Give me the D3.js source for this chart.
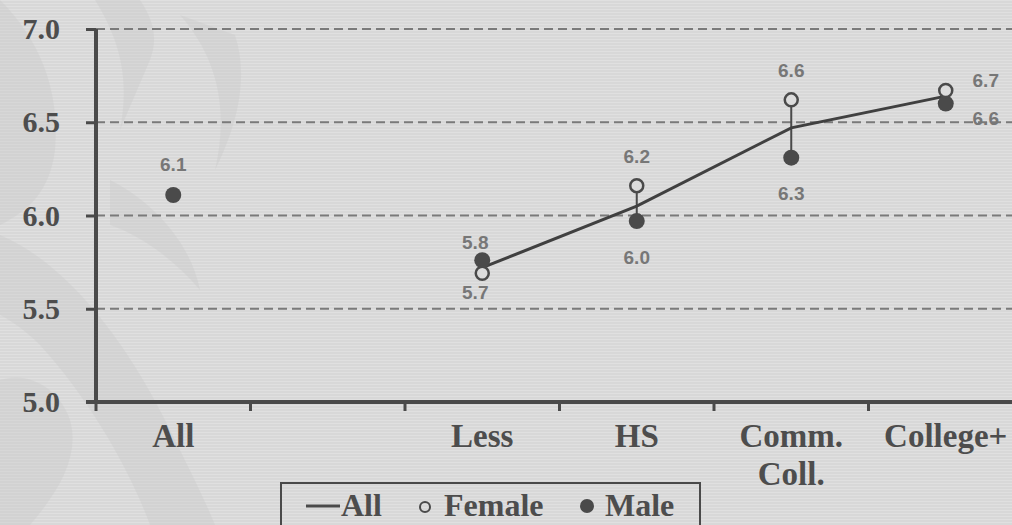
<!DOCTYPE html>
<html lang="en">
<head>
<meta charset="UTF-8">
<title>Education gaps</title>
<script src="https://d3js.org/d3.v7.min.js"></script>
<style>
  body { margin: 0; background: #d9d9d9; }
  svg { display: block; }
  .tick-label { font-family: "Liberation Serif", serif; font-weight: bold; fill: #4d4d4d; }
  .val { font-family: "Liberation Sans", Arial, sans-serif; font-weight: bold; font-size: 19px; fill: #777; text-anchor: middle; }
</style>
</head>
<body>
<svg id="chart"></svg>
<script>
// categories (the empty one is a spacer slot on the axis)
const categories = ["All", "", "Less", "HS", "Comm. Coll.", "College+"];
const allValues    = [null, null, 5.72, 6.05, 6.47, 6.64];
const femaleValues = [null, null, 5.69, 6.16, 6.62, 6.67];
const maleValues   = [6.11, null, 5.76, 5.97, 6.31, 6.60];
const femaleLabels = [null, null, "5.7", "6.2", "6.6", "6.7"];
const maleLabels   = ["6.1", null, "5.8", "6.0", "6.3", "6.6"];
const yTicks = [5.0, 5.5, 6.0, 6.5, 7.0];
const legendItems = ["All", "Female", "Male"];

const w = 1012, h = 525;
const svg = d3.select("#chart").attr("width", w).attr("height", h);

// striped background
const defs = svg.append("defs");
const pat = defs.append("pattern").attr("id", "stripes")
  .attr("width", 8).attr("height", 3).attr("patternUnits", "userSpaceOnUse");
pat.append("rect").attr("width", 8).attr("height", 3).attr("fill", "#d8d8d8");
pat.append("rect").attr("width", 8).attr("height", 1).attr("fill", "#e0e0e0");
svg.append("rect").attr("width", w).attr("height", h).attr("fill", "url(#stripes)");

// faint watermark ornament on the left
const orn = svg.append("g").attr("fill", "#c9c9c9").attr("opacity", 0.35);
orn.append("path").attr("d", "M0,235 C60,260 120,330 165,420 C190,470 205,500 215,525 L150,525 C130,470 90,400 40,345 C25,330 10,320 0,315 Z");
orn.append("path").attr("d", "M0,0 C40,40 60,90 55,150 C50,190 30,210 0,225 Z");
orn.append("path").attr("d", "M95,0 C120,40 130,80 120,130 L150,60 C160,35 150,15 140,0 Z");
orn.append("path").attr("d", "M180,15 C215,55 230,105 215,170 C235,130 250,80 235,35 Z");
orn.append("path").attr("d", "M0,380 C30,370 60,390 70,420 C80,455 60,490 30,525 L0,525 Z");
orn.append("path").attr("d", "M110,180 C150,200 190,240 200,290 C175,260 140,235 110,225 Z");

const x = d3.scaleBand().domain(categories).range([96, 1023]).padding(0);
const y = d3.scaleLinear().domain([5, 7]).range([402, 29]);
const cx = d => x(d) + x.bandwidth() / 2;

// dashed gridlines
svg.append("g").selectAll("line")
  .data(yTicks.filter(t => t > 5))
  .enter().append("line")
  .attr("x1", 96).attr("x2", w)
  .attr("y1", d => y(d)).attr("y2", d => y(d))
  .attr("stroke", "#7a7a7a").attr("stroke-width", 2)
  .attr("stroke-dasharray", "9,5");

// y axis
const yAxis = d3.axisLeft(y).tickValues(yTicks).tickFormat(d3.format(".1f"))
  .tickSize(10).tickPadding(26);
const gy = svg.append("g").attr("transform", "translate(96,0)").call(yAxis);
gy.select(".domain").attr("stroke", "#4a4a4a").attr("stroke-width", 4).attr("d", "M-0,29V402");
gy.selectAll(".tick line").attr("stroke", "#4a4a4a").attr("stroke-width", 3);
gy.selectAll(".tick text").attr("class", "tick-label").style("font-size", "30px")
  .attr("font-family", null).attr("font-size", null).attr("fill", null);

// x axis line and tick marks at band edges
svg.append("line").attr("x1", 86).attr("x2", w).attr("y1", 402).attr("y2", 402)
  .attr("stroke", "#4a4a4a").attr("stroke-width", 4);
svg.append("g").selectAll("line")
  .data(categories)
  .enter().append("line")
  .attr("x1", d => x(d)).attr("x2", d => x(d))
  .attr("y1", 402).attr("y2", 411)
  .attr("stroke", "#4a4a4a").attr("stroke-width", 3);

// x labels
const xl = svg.append("g").selectAll("text")
  .data(categories.filter(c => c))
  .enter().append("text")
  .attr("class", "tick-label")
  .style("font-size", "33px")
  .attr("text-anchor", "middle")
  .attr("x", d => cx(d))
  .attr("y", 447);
xl.each(function(d) {
  const parts = d.split(" ");
  const t = d3.select(this);
  parts.forEach((p, i) => {
    t.append("tspan").attr("x", cx(d)).attr("dy", i === 0 ? 0 : 38).text(p);
  });
});

// rows of data per category
const rows = categories.map((c, i) => ({
  cat: c, all: allValues[i], f: femaleValues[i], m: maleValues[i],
  fl: femaleLabels[i], ml: maleLabels[i]
}));

// vertical connectors between female and male
svg.append("g").selectAll("line")
  .data(rows.filter(r => r.f != null && r.m != null))
  .enter().append("line")
  .attr("x1", d => cx(d.cat)).attr("x2", d => cx(d.cat))
  .attr("y1", d => y(d.f)).attr("y2", d => y(d.m))
  .attr("stroke", "#4a4a4a").attr("stroke-width", 2);

// "All" line
const line = d3.line().x(d => cx(d.cat)).y(d => y(d.all));
svg.append("path")
  .datum(rows.filter(r => r.all != null))
  .attr("d", line)
  .attr("fill", "none").attr("stroke", "#404040").attr("stroke-width", 3);

// male markers
svg.append("g").selectAll("circle")
  .data(rows.filter(r => r.m != null))
  .enter().append("circle")
  .attr("cx", d => cx(d.cat)).attr("cy", d => y(d.m)).attr("r", 8)
  .attr("fill", "#4a4a4a");

// female markers
svg.append("g").selectAll("circle")
  .data(rows.filter(r => r.f != null))
  .enter().append("circle")
  .attr("cx", d => cx(d.cat)).attr("cy", d => y(d.f)).attr("r", 6.5)
  .attr("fill", "#dcdcdc").attr("stroke", "#4a4a4a").attr("stroke-width", 2.5);

// value labels: higher value above, lower value below
const placement = {
  "All":        {dx: 0,  up: -24, down: 0},
  "Less":       {dx: -7, up: -11, down: 26},
  "HS":         {dx: 0,  up: -23, down: 43},
  "Comm. Coll.":{dx: 0,  up: -23, down: 42},
  "College+":   {dx: 40, up: -4,  down: 21}
};
const labels = [];
rows.forEach(r => {
  const p = placement[r.cat];
  if (!p) return;
  if (r.f == null) {
    labels.push({x: cx(r.cat) + p.dx, y: y(r.m) + p.up, t: r.ml});
    return;
  }
  const fHigh = r.f >= r.m;
  const top = fHigh ? {v: r.f, t: r.fl} : {v: r.m, t: r.ml};
  const bot = fHigh ? {v: r.m, t: r.ml} : {v: r.f, t: r.fl};
  labels.push({x: cx(r.cat) + p.dx, y: y(top.v) + p.up, t: top.t});
  labels.push({x: cx(r.cat) + p.dx, y: y(bot.v) + p.down, t: bot.t});
});
svg.append("g").selectAll("text")
  .data(labels)
  .enter().append("text")
  .attr("class", "val")
  .attr("x", d => d.x).attr("y", d => d.y)
  .text(d => d.t);

// legend
const lg = svg.append("g");
lg.append("rect").attr("x", 281).attr("y", 483).attr("width", 419).attr("height", 60)
  .attr("fill", "none").attr("stroke", "#4a4a4a").attr("stroke-width", 2);
lg.append("line").attr("x1", 306).attr("x2", 340).attr("y1", 506).attr("y2", 506)
  .attr("stroke", "#4a4a4a").attr("stroke-width", 3);
lg.append("circle").attr("cx", 425).attr("cy", 507).attr("r", 5)
  .attr("fill", "none").attr("stroke", "#4a4a4a").attr("stroke-width", 2);
lg.append("circle").attr("cx", 587).attr("cy", 506).attr("r", 7).attr("fill", "#4a4a4a");
const legendX = [341, 444, 605];
lg.selectAll("text.leg")
  .data(legendItems)
  .enter().append("text")
  .attr("class", "tick-label leg")
  .style("font-size", "32px")
  .attr("x", (d, i) => legendX[i]).attr("y", 516)
  .text(d => d);
</script>
</body>
</html>
